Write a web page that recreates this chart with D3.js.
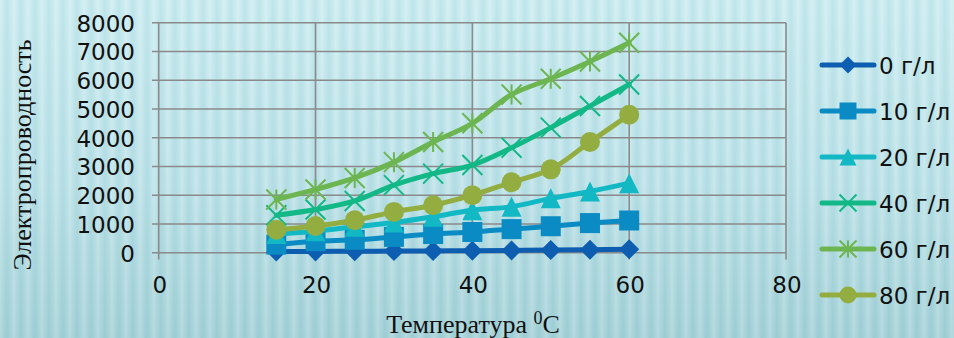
<!DOCTYPE html>
<html><head><meta charset="utf-8">
<script src="https://cdn.jsdelivr.net/npm/d3@7"></script>
<style>html,body{margin:0;padding:0;overflow:hidden;}svg{display:block;}</style>
</head><body>
<script>
const temps = [15,20,25,30,35,40,45,50,55,60];
const seriesNames = ["0 г/л","10 г/л","20 г/л","40 г/л","60 г/л","80 г/л"];
const s0  = [40,45,50,55,60,70,80,90,100,120];
const s10 = [280,400,450,550,650,720,820,920,1030,1120];
const s20 = [650,750,900,1050,1250,1480,1600,1890,2130,2420];
const s40 = [1300,1500,1800,2350,2750,3050,3650,4350,5100,5850];
const s60 = [1850,2200,2600,3150,3850,4500,5500,6050,6650,7300];
const s80 = [800,930,1130,1420,1650,2000,2450,2900,3850,4800];
const xTicks = [0,20,40,60,80];
const yTicks = [0,1000,2000,3000,4000,5000,6000,7000,8000];
const colors = ["#0d5db0","#0a8bc4","#12b8c4","#12b886","#6db551","#93ad40"];
const markers = ["diamond","square","triangle","x","asterisk","circle"];
const yTitle = "Электропроводность";
const xTitle = "Температура ";

const W=954,H=338;
const svg=d3.select("body").append("svg").attr("width",W).attr("height",H);
const defs=svg.append("defs");
const bg=defs.append("linearGradient").attr("id","bg").attr("x1",0).attr("y1",0).attr("x2",0).attr("y2",1);
bg.append("stop").attr("offset","0%").attr("stop-color","#cdeef2");
bg.append("stop").attr("offset","55%").attr("stop-color","#bde3e9");
bg.append("stop").attr("offset","100%").attr("stop-color","#a5d2d8");
const stripeG=defs.append("linearGradient").attr("id","stripe").attr("x1",0).attr("y1",0).attr("x2",1).attr("y2",0);
stripeG.append("stop").attr("offset","0%").attr("stop-color","#ffffff").attr("stop-opacity",0.18);
stripeG.append("stop").attr("offset","50%").attr("stop-color","#5aa9b4").attr("stop-opacity",0.12);
stripeG.append("stop").attr("offset","100%").attr("stop-color","#ffffff").attr("stop-opacity",0.18);
const pat=defs.append("pattern").attr("id","stripes").attr("patternUnits","userSpaceOnUse").attr("width",14).attr("height",H);
pat.append("rect").attr("width",14).attr("height",H).attr("fill","url(#stripe)");
svg.append("rect").attr("width",W).attr("height",H).attr("fill","url(#bg)");
svg.append("rect").attr("width",W).attr("height",H).attr("fill","url(#stripes)");

const x=d3.scaleLinear().domain([0,80]).range([158.7,786]);
const y=d3.scaleLinear().domain([0,8000]).range([252.7,22.7]);

const grid=svg.append("g");
grid.selectAll("line.h").data(yTicks).enter().append("line")
  .attr("x1",152).attr("x2",x(80)).attr("y1",d=>y(d)).attr("y2",d=>y(d))
  .attr("stroke","#8a8a8a").attr("stroke-width",1.6);
grid.selectAll("line.v").data(xTicks).enter().append("line")
  .attr("x1",d=>x(d)).attr("x2",d=>x(d)).attr("y1",y(8000)).attr("y2",259.5)
  .attr("stroke","#8a8a8a").attr("stroke-width",1.6);

const tf="'DejaVu Sans', sans-serif";
svg.append("g").selectAll("text").data(yTicks).enter().append("text")
  .attr("x",135).attr("y",d=>y(d)+9).attr("text-anchor","end")
  .attr("font-family",tf).attr("font-size",23).attr("fill","#111").text(d=>d);
svg.append("g").selectAll("text").data(xTicks).enter().append("text")
  .attr("x",d=>x(d)+1).attr("y",293).attr("text-anchor","middle")
  .attr("font-family",tf).attr("font-size",23).attr("fill","#111").text(d=>d);

const sf="'Liberation Serif','Times New Roman',serif";
svg.append("text").attr("transform","translate(31,155) rotate(-90)")
  .attr("text-anchor","middle").attr("font-family",sf).attr("font-size",26).attr("fill","#111")
  .text(yTitle);
const xt=svg.append("text").attr("x",473).attr("y",333).attr("text-anchor","middle")
  .attr("font-family",sf).attr("font-size",26).attr("fill","#111");
xt.append("tspan").text(xTitle);
xt.append("tspan").attr("font-size",18).attr("dy",-9).text("0");
xt.append("tspan").attr("dy",9).text("C");

function drawMarker(g,type,color,s){
  const h=s/2;
  if(type==="diamond") g.append("path").attr("d",`M0,${-h}L${h},0L0,${h}L${-h},0Z`).attr("fill",color);
  else if(type==="square") g.append("rect").attr("x",-h).attr("y",-h).attr("width",s).attr("height",s).attr("fill",color);
  else if(type==="triangle") g.append("path").attr("d",`M0,${-h}L${h},${h}L${-h},${h}Z`).attr("fill",color);
  else if(type==="circle") g.append("circle").attr("r",h).attr("fill",color);
  else if(type==="x") g.append("path").attr("d",`M${-h},${-h}L${h},${h}M${-h},${h}L${h},${-h}`).attr("stroke",color).attr("stroke-width",2).attr("fill","none");
  else if(type==="asterisk") g.append("path").attr("d",`M${-h},${-h}L${h},${h}M${-h},${h}L${h},${-h}M0,${-h}L0,${h}`).attr("stroke",color).attr("stroke-width",2).attr("fill","none");
}

const allSeries=[s0,s10,s20,s40,s60,s80];
const line=d3.line().x((d,i)=>x(temps[i])).y(d=>y(d)).curve(d3.curveCatmullRom.alpha(0.5));
allSeries.forEach((vals,si)=>{
  const g=svg.append("g");
  g.append("path").attr("d",line(vals)).attr("fill","none").attr("stroke",colors[si])
    .attr("stroke-width",5).attr("stroke-linejoin","round").attr("stroke-linecap","round");
  vals.forEach((v,i)=>{
    const mg=g.append("g").attr("transform",`translate(${x(temps[i])},${y(v)})`);
    drawMarker(mg,markers[si],colors[si],20);
  });
});

const lg=svg.append("g");
seriesNames.forEach((n,i)=>{
  const yy=65+i*46;
  lg.append("line").attr("x1",822).attr("x2",874).attr("y1",yy).attr("y2",yy)
    .attr("stroke",colors[i]).attr("stroke-width",5).attr("stroke-linecap","round");
  const mg=lg.append("g").attr("transform",`translate(848,${yy})`);
  drawMarker(mg,markers[i],colors[i],17);
  lg.append("text").attr("x",879).attr("y",yy+8.5).attr("font-family",tf).attr("font-size",23)
    .attr("fill","#111").text(n);
});
</script>
</body></html>
